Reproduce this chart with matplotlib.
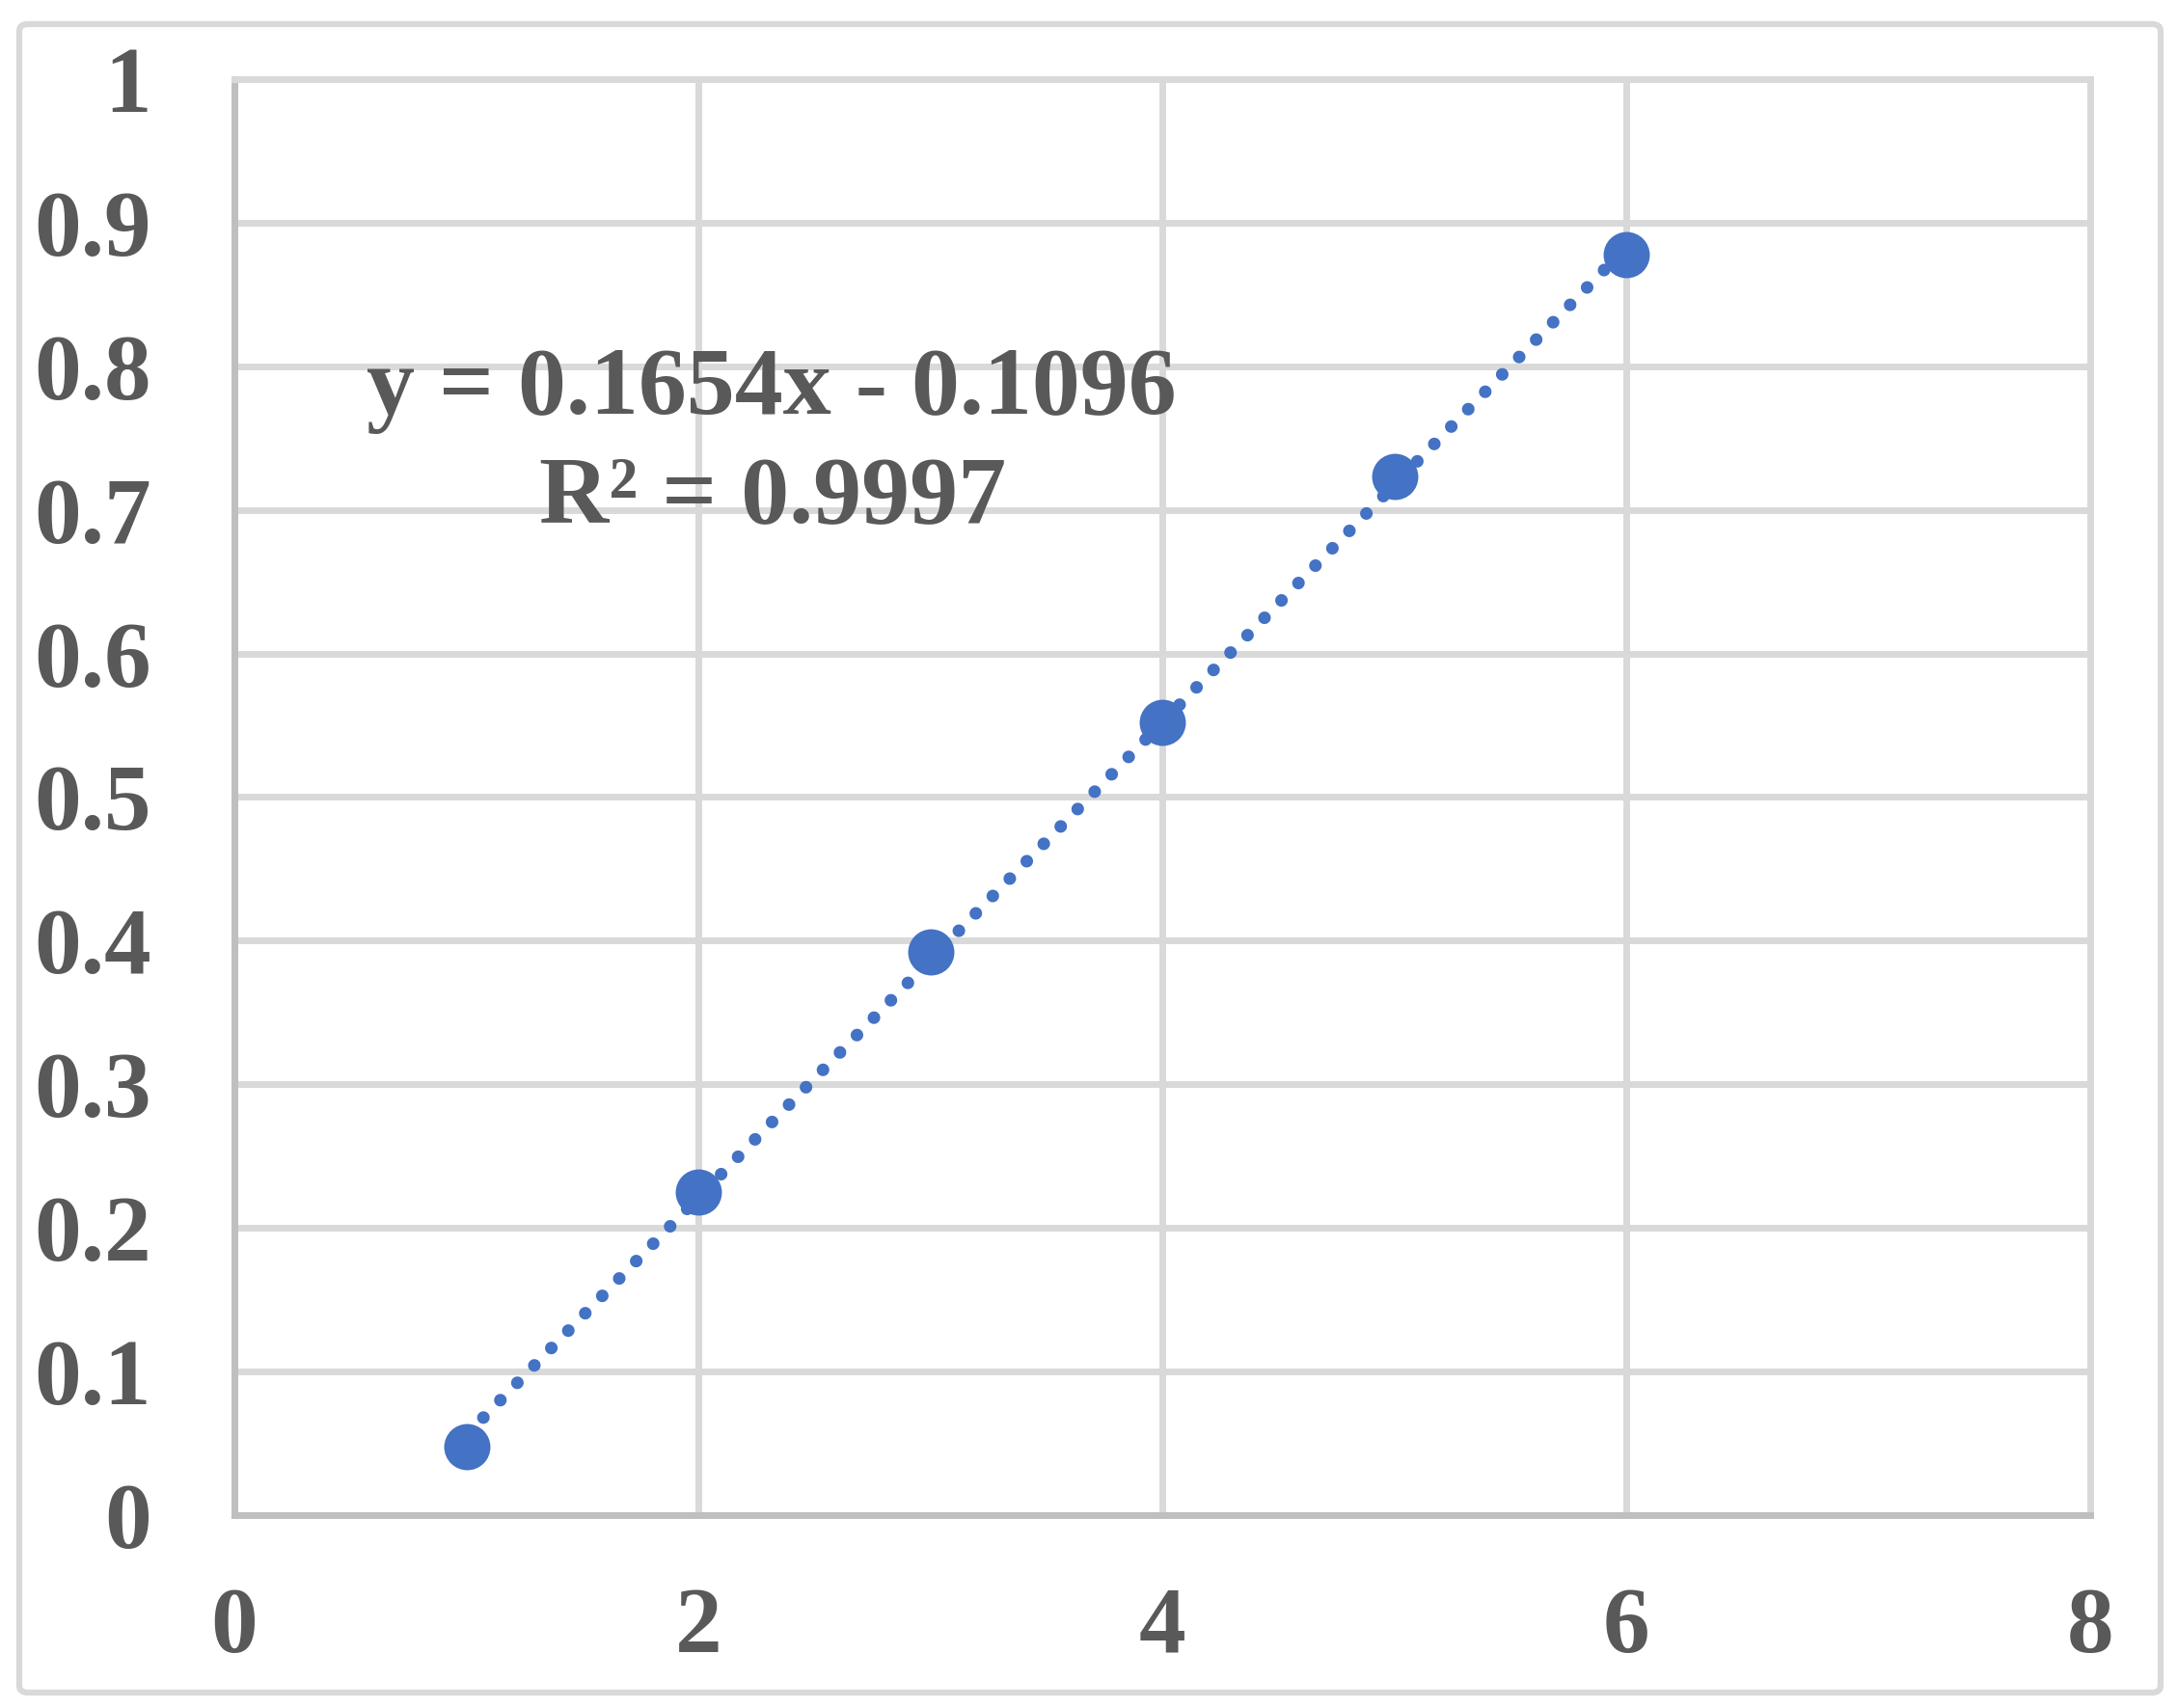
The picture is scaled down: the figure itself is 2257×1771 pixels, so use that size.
import matplotlib
matplotlib.use("Agg")
import matplotlib.pyplot as plt
from matplotlib.patches import FancyBboxPatch

# datos
x_vals = [1, 2, 3, 4, 5, 6]
y_vals = [0.048, 0.225, 0.392, 0.552, 0.723, 0.878]
fit_coef = [0.1654, -0.1096]   # pendiente, intercepto (de la ecuacion)
fit_range = [1, 6]
x_ticks = [0, 2, 4, 6, 8]
y_ticks = [0, 0.1, 0.2, 0.3, 0.4, 0.5, 0.6, 0.7, 0.8, 0.9, 1]
eq_line1 = "y = 0.1654x - 0.1096"
eq_line2 = "R² = 0.9997"

BLUE = "#4472C4"
TEXT = "#595959"
GRID = "#D9D9D9"
AXIS = "#BFBFBF"

plt.rcParams['font.family'] = ['Liberation Serif', 'DejaVu Serif']
plt.rcParams['font.weight'] = 'bold'

fig = plt.figure(figsize=(22.57, 17.71), dpi=100)
ax = fig.add_axes([0.10767, 0.11293, 0.85246, 0.84077])

# marco exterior
border = FancyBboxPatch((20 / 2257, 1 - 1755 / 1771), 2220 / 2257, 1730 / 1771,
                        boxstyle="round,pad=0,rounding_size=0.004",
                        transform=fig.transFigure, fill=False,
                        edgecolor=GRID, linewidth=4.5, zorder=0)
fig.patches.append(border)

# linea de tendencia punteada
tx = fit_range
ty = [fit_coef[0] * v + fit_coef[1] for v in tx]
ax.plot(tx, ty, color=BLUE, linewidth=9.4, linestyle=(0, (0.01, 1.92)),
        dash_capstyle='round', zorder=3)

ax.plot(x_vals, y_vals, 'o', color=BLUE, markersize=34.5, markeredgewidth=0,
        zorder=4)

ax.set_xlim(0, 8)
ax.set_ylim(0, 1)
ax.set_xticks(x_ticks)
ax.set_yticks(y_ticks)
ax.set_xticklabels([str(v) for v in x_ticks])
ax.set_yticklabels([f"{v:g}" for v in y_ticks])
ax.tick_params(axis='both', length=0, labelsize=70, labelcolor=TEXT)
ax.tick_params(axis='y', pad=62)
ax.tick_params(axis='x', pad=53)

ax.grid(True, color=GRID, linewidth=5)
ax.set_axisbelow(True)
for side in ['top', 'right']:
    ax.spines[side].set_color(GRID)
    ax.spines[side].set_linewidth(5)
for side in ['left', 'bottom']:
    ax.spines[side].set_color(AXIS)
    ax.spines[side].set_linewidth(5)

# ecuacion de la recta
ax.text(800 / 2257, 1 - 429 / 1771, eq_line1, transform=fig.transFigure,
        fontsize=72, color=TEXT, ha='center', va='baseline')
ax.text(801 / 2257, 1 - 541 / 1771, eq_line2, transform=fig.transFigure,
        fontsize=72, color=TEXT, ha='center', va='baseline')

fig.savefig("out.png", dpi=100, facecolor='white')
